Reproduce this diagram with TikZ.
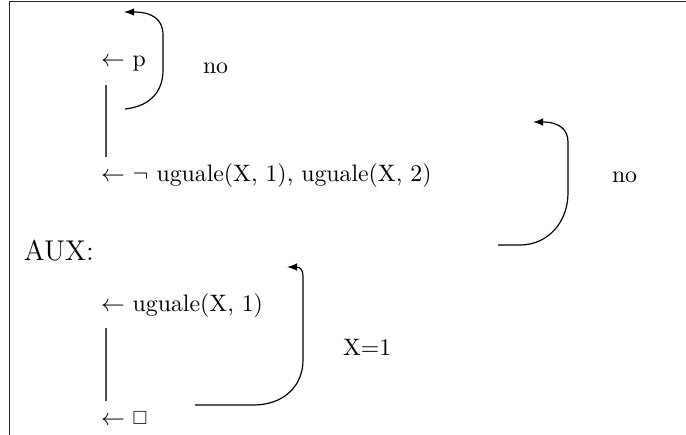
\documentclass[tikz,border=0pt]{standalone}
\usepackage{amssymb}
\usetikzlibrary{arrows}
\begin{document}
\begin{tikzpicture}[x=0.42017pt,y=-0.42017pt,
  txt/.style={anchor=base west,inner sep=0pt,outer sep=0pt},
  loopline/.style={line width=0.5pt,-latex},
  bar/.style={line width=0.5pt,draw=black!70},
  frame/.style={line width=0.8pt,draw=black!85}]
\useasboundingbox (0,0) rectangle (686,435);
% frame
\coordinate (fl) at (9.5,435);
\coordinate (fc) at (9.5,1.5);
\coordinate (fr) at (686,1.5);
\draw[frame] (fl) -- (fc) -- (fr);
% texts
\node[txt] (p) at (101,66) {$\leftarrow$ p};
\node[txt] (no1) at (203,73) {no};
\node[txt] (g1) at (101,181) {$\leftarrow$ $\neg$ uguale(X, 1), uguale(X, 2)};
\node[txt] (no2) at (612,182) {no};
\node[txt] (aux) at (24,260) {\large AUX:};
\node[txt] (g2) at (101,311) {$\leftarrow$ uguale(X, 1)};
\node[txt] (x1) at (343,355) {X=1};
\node[txt] (g3) at (101,425) {$\leftarrow$ \raisebox{0.2pt}{\scalebox{0.8}{$\square$}}};
% vertical bars
\coordinate (b1t) at (106,85);
\coordinate (b1b) at (106,157);
\coordinate (b2t) at (106,328);
\coordinate (b2b) at (106,401);
\draw[bar] (b1t) -- (b1b);
\draw[bar] (b2t) -- (b2b);
% loop 1
\coordinate (l1s) at (125,109);
\coordinate (l1e) at (124,12);
\draw[loopline] (l1s) .. controls (152,106) and (163,90) .. (163,70)
  -- (163,35) .. controls (163,19) and (152,12) .. (l1e);
% loop 2
\coordinate (l2s) at (498,245);
\coordinate (l2e) at (533,122);
\draw[loopline] (l2s) -- (520,245) .. controls (548,245) and (568,222) .. (568,193)
  -- (568,142) .. controls (568,130) and (560,122) .. (l2e);
% loop 3
\coordinate (l3s) at (195,405);
\coordinate (l3e) at (287,267);
\draw[loopline] (l3s) -- (253,405) .. controls (285,405) and (303,385) .. (303,360)
  -- (303,276) .. controls (303,270) and (300,267) .. (l3e);
\end{tikzpicture}
\end{document}
